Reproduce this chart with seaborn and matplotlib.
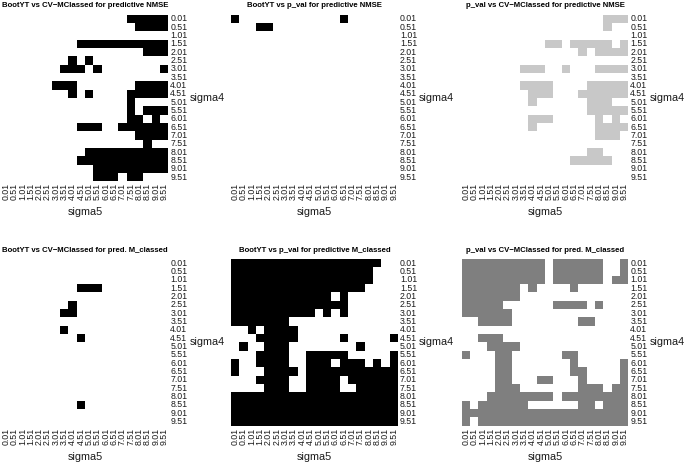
import numpy as np
import pandas as pd
import matplotlib
matplotlib.use("Agg")
import matplotlib.pyplot as plt
import seaborn as sns
from matplotlib.colors import ListedColormap

sns.set_theme(style="white")
plt.rcParams['font.family'] = ['Liberation Sans', 'DejaVu Sans']

sigma_labels = ["0.01", "0.51", "1.01", "1.51", "2.01", "2.51", "3.01", "3.51", "4.01", "4.51",
                "5.01", "5.51", "6.01", "6.51", "7.01", "7.51", "8.01", "8.51", "9.01", "9.51"]

# rows: sigma4 (top = 0.01), columns: sigma5 (left = 0.01); 1 = marked cell
p1_rows = [
    "00000 00000 00000 11111",
    "00000 00000 00000 01111",
    "00000 00000 00000 00000",
    "00000 00001 11111 11111",
    "00000 00000 00000 00111",
    "00000 00010 10000 00000",
    "00000 00111 01000 00001",
    "00000 00000 00000 00000",
    "00000 01110 00000 01111",
    "00000 00010 10000 11111",
    "00000 00000 00000 10000",
    "00000 00000 00000 10111",
    "00000 00000 00000 11010",
    "00000 00001 11001 11111",
    "00000 00000 00000 01111",
    "00000 00000 00000 00100",
    "00000 00000 11111 11111",
    "00000 00001 11111 11111",
    "00000 00000 01111 11111",
    "00000 00000 01110 11000",
]
p2_rows = [
    "10000 00000 00010 00000",
    "00011 00000 00000 00000",
] + ["00000 00000 00000 00000"] * 18
p3_rows = [
    "00000 00000 00000 00111",
    "00000 00000 00000 00100",
    "00000 00000 00000 00000",
    "00000 00000 11011 11101",
    "00000 00000 00001 01111",
    "00000 00000 00000 00000",
    "00000 00111 00100 01111",
    "00000 00000 00000 00000",
    "00000 00111 10000 11111",
    "00000 00011 10001 11111",
    "00000 00010 00000 11100",
    "00000 00000 00000 11111",
    "00000 00011 10000 01010",
    "00000 00010 00000 01111",
    "00000 00000 00000 01110",
    "00000 00000 00000 00000",
    "00000 00000 00000 11000",
    "00000 00000 00011 11100",
    "00000 00000 00000 00000",
    "00000 00000 00000 00000",
]
p4_rows = [
    "00000 00000 00000 00000",
    "00000 00000 00000 00000",
    "00000 00000 00000 00000",
    "00000 00001 11000 00000",
    "00000 00000 00000 00000",
    "00000 00010 00000 00000",
    "00000 00110 00000 00000",
    "00000 00000 00000 00000",
    "00000 00100 00000 00000",
    "00000 00001 00000 00000",
    "00000 00000 00000 00000",
    "00000 00000 00000 00000",
    "00000 00000 00000 00000",
    "00000 00000 00000 00000",
    "00000 00000 00000 00000",
    "00000 00000 00000 00000",
    "00000 00000 00000 00000",
    "00000 00001 00000 00000",
    "00000 00000 00000 00000",
    "00000 00000 00000 00000",
]
p5_rows = [
    "11111 11111 11111 11100",
    "11111 11111 11111 11000",
    "11111 11111 11111 11000",
    "11111 11111 11111 10000",
    "11111 11111 11010 00000",
    "11111 11111 11110 00000",
    "11111 11111 01010 00000",
    "11111 11000 00000 00000",
    "00101 11100 00000 00000",
    "00011 11100 00010 00001",
    "01001 11000 00000 10000",
    "00011 11001 11110 00001",
    "10011 11001 11011 10101",
    "10001 11101 11111 11111",
    "00011 11001 11101 11111",
    "00001 11001 11100 11111",
    "11111 11111 11111 11111",
    "11111 11111 11111 11111",
    "11111 11111 11111 11111",
    "11111 11111 11111 11111",
]
p6_rows = [
    "11111 11111 01111 11001",
    "11111 11111 01111 11001",
    "11111 11111 01111 11011",
    "11111 11010 00010 00000",
    "11111 11000 00000 00000",
    "11111 00000 01111 01000",
    "11111 10000 00000 00000",
    "00111 10000 00001 10000",
    "00000 00000 00000 00000",
    "00111 00000 00000 00000",
    "00011 11000 00000 00000",
    "10001 10000 00110 00000",
    "00001 10000 00010 00001",
    "00001 10000 00011 00001",
    "00001 10001 10001 00001",
    "00001 11000 00001 11011",
    "00011 11111 10111 11111",
    "10111 11100 00001 10111",
    "11111 11111 11111 11111",
    "10111 11111 11111 11111",
]

titles = [
    "BootYT vs CV\u2212MClassed for predictive NMSE",
    "BootYT vs p_val for predictive NMSE",
    "p_val vs CV\u2212MClassed for predictive NMSE",
    "BootYT vs CV\u2212MClassed for pred. M_classed",
    "BootYT vs p_val for predictive M_classed",
    "p_val vs CV\u2212MClassed for pred. M_classed",
]
colors = ["#000000", "#000000", "#c8c8c8", "#000000", "#000000", "#7f7f7f"]
panels = [p1_rows, p2_rows, p3_rows, p4_rows, p5_rows, p6_rows]

W, H = 685, 462
fig = plt.figure(figsize=(W / 100, H / 100), dpi=100)
fig.patch.set_facecolor("white")

# grid boxes in pixels: (left, right, top, bottom)
xs = [(1.7, 168.3), (231.0, 398.0), (461.7, 628.3)]
ys = [(14.7, 181.3), (259.0, 425.7)]

for i, rows in enumerate(panels):
    r, c = divmod(i, 3)
    x0, x1 = xs[c]
    y0, y1 = ys[r]
    ax = fig.add_axes([x0 / W, 1 - y1 / H, (x1 - x0) / W, (y1 - y0) / H])
    mat = np.array([[int(ch) for ch in s.replace(" ", "")] for s in rows])
    df = pd.DataFrame(mat, index=sigma_labels, columns=sigma_labels)
    sns.heatmap(df, mask=(df == 0), cmap=ListedColormap([colors[i]]), vmin=0, vmax=1,
                cbar=False, ax=ax, xticklabels=sigma_labels, yticklabels=sigma_labels,
                linewidths=0, square=False)
    ax.set_xlim(0, 20)
    ax.set_ylim(20, 0)
    ax.yaxis.tick_right()
    ax.tick_params(axis='both', length=0, pad=1.4, labelsize=6.3, colors="#1a1a1a")
    plt.setp(ax.get_xticklabels(), rotation=90, ha='center', va='top')
    plt.setp(ax.get_yticklabels(), rotation=0, ha='left', va='center')
    ax.set_xlabel("")
    ax.set_ylabel("")
    for sp in ax.spines.values():
        sp.set_visible(False)
    gw = x1 - x0
    gh = y1 - y0
    ax.text(1 + 21 / gw, 0.5, "sigma4", transform=ax.transAxes, ha='left', va='center',
            fontsize=7.8, color="#1a1a1a")
    ax.text(0.5, -31 / gh, "sigma5", transform=ax.transAxes, ha='center', va='center',
            fontsize=7.8, color="#1a1a1a")
    ax.text(0.5, 1 + 9 / gh, titles[i], transform=ax.transAxes, ha='center', va='center',
            fontsize=5.6, fontweight='bold', color="#000000")

fig.savefig("out.png", dpi=100, facecolor="white")
